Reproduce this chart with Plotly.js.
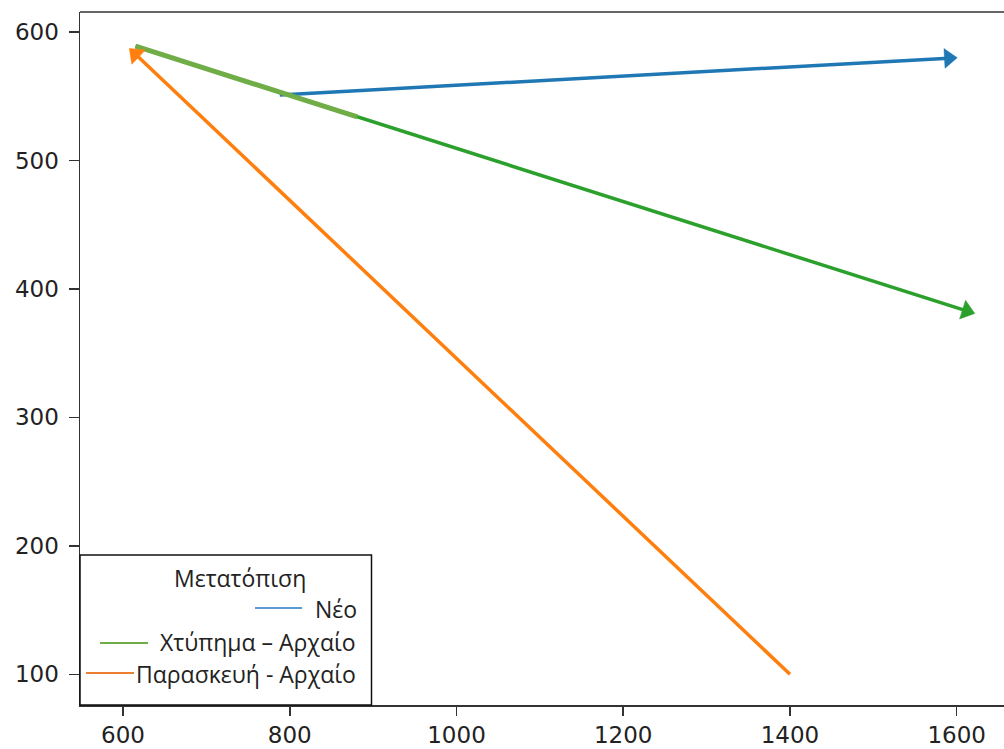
<!DOCTYPE html>
<html>
<head>
<meta charset="utf-8">
<script src="https://cdn.plot.ly/plotly-3.0.1.min.js"></script>
<style>html,body{margin:0;padding:0;background:#fff;}#chart{width:1004px;height:749px;}</style>
</head>
<body>
<div id="chart"></div>
<script>
// ---- data ----
var seriesNames = ["Νέο", "Χτύπημα – Αρχαίο", "Παρασκευή - Αρχαίο"];
var legendTitle = "Μετατόπιση";
var neoX = [788, 1600];
var neoY = [551, 580];
var xtypimaX = [615, 1621];
var xtypimaY = [589, 381];
var xtypimaHighlightX = [615, 881];
var xtypimaHighlightY = [589, 534];
var paraskeviX = [1400, 608];
var paraskeviY = [100, 587];
var xTicks = [600, 800, 1000, 1200, 1400, 1600];
var yTicks = [100, 200, 300, 400, 500, 600];

// ---- styles ----
var lineColors = ["#1f77b4", "#2ca02c", "#ff7f0e"];
var legendColors = ["#5b9bd5", "#70ad47", "#ed7d31"];
var highlightColor = "#70ad47";

function arrowTrace(x, y, color) {
  return {
    x: x, y: y, type: "scatter", mode: "lines+markers", showlegend: false,
    line: {color: color, width: 3.5},
    marker: {symbol: ["circle", "triangle-up"], size: [0, 17], color: color, opacity: 1,
             angleref: "previous", standoff: 8, line: {width: 0.5, color: color}},
    hoverinfo: "skip"
  };
}

var traces = [
  arrowTrace(neoX, neoY, lineColors[0]),
  arrowTrace(xtypimaX, xtypimaY, lineColors[1]),
  {x: xtypimaHighlightX, y: xtypimaHighlightY, type: "scatter", mode: "lines",
   showlegend: false, line: {color: highlightColor, width: 5}, hoverinfo: "skip"},
  arrowTrace(paraskeviX, paraskeviY, lineColors[2])
];

// plot area in pixels
var L = 80, R = 1004, T = 12, B = 705;
function px(x) { return (x - L) / (R - L); }
function py(y) { return (B - y) / (B - T); }

var legFont = {family: "Open Sans, Noto Sans, sans-serif", size: 23, color: "#222"};
var shapes = [
  {type: "line", xref: "paper", yref: "paper", x0: 0, x1: 1, y0: 1, y1: 1,
   line: {color: "#333", width: 1.5}},
  {type: "rect", xref: "paper", yref: "paper", x0: 0, x1: px(371.5), y0: 0, y1: py(555),
   fillcolor: "#fff", line: {color: "#111", width: 1.5}, layer: "above"},
  {type: "line", xref: "paper", yref: "paper", x0: px(255), x1: px(302), y0: py(608), y1: py(608),
   line: {color: legendColors[0], width: 2}, layer: "above"},
  {type: "line", xref: "paper", yref: "paper", x0: px(100), x1: px(148), y0: py(643), y1: py(643),
   line: {color: legendColors[1], width: 2}, layer: "above"},
  {type: "line", xref: "paper", yref: "paper", x0: px(86), x1: px(134), y0: py(673), y1: py(673),
   line: {color: legendColors[2], width: 2}, layer: "above"}
];
var annotations = [
  {xref: "paper", yref: "paper", x: px(239.5), y: py(578), text: legendTitle, showarrow: false,
   xanchor: "center", yanchor: "middle", font: legFont},
  {xref: "paper", yref: "paper", x: px(359), y: py(609), text: seriesNames[0], showarrow: false,
   xanchor: "right", yanchor: "middle", font: legFont},
  {xref: "paper", yref: "paper", x: px(358), y: py(642), text: seriesNames[1], showarrow: false,
   xanchor: "right", yanchor: "middle", font: legFont},
  {xref: "paper", yref: "paper", x: px(358), y: py(674), text: seriesNames[2], showarrow: false,
   xanchor: "right", yanchor: "middle", font: legFont}
];

var tickFont = {family: "DejaVu Sans, sans-serif", size: 23, color: "#222"};
var layout = {
  width: 1004, height: 749,
  margin: {l: L, r: 1004 - R, t: T, b: 749 - B, pad: 0},
  paper_bgcolor: "#fff", plot_bgcolor: "#fff",
  showlegend: false,
  xaxis: {range: [548.4, 1656.7], tickvals: xTicks, ticktext: xTicks.map(String),
          showgrid: false, zeroline: false, showline: true, linecolor: "#333", linewidth: 1.5,
          ticks: "outside", ticklen: 9, tickwidth: 1.5, tickcolor: "#333", tickfont: tickFont},
  yaxis: {range: [76.1, 615.6], tickvals: yTicks, ticktext: yTicks.map(String),
          showgrid: false, zeroline: false, showline: true, linecolor: "#333", linewidth: 1.5,
          ticks: "outside", ticklen: 10, tickwidth: 1.5, tickcolor: "#333", tickfont: tickFont,
          ticklabelstandoff: 5},
  shapes: shapes,
  annotations: annotations
};

Plotly.newPlot("chart", traces, layout, {displayModeBar: false, staticPlot: true});
</script>
</body>
</html>
